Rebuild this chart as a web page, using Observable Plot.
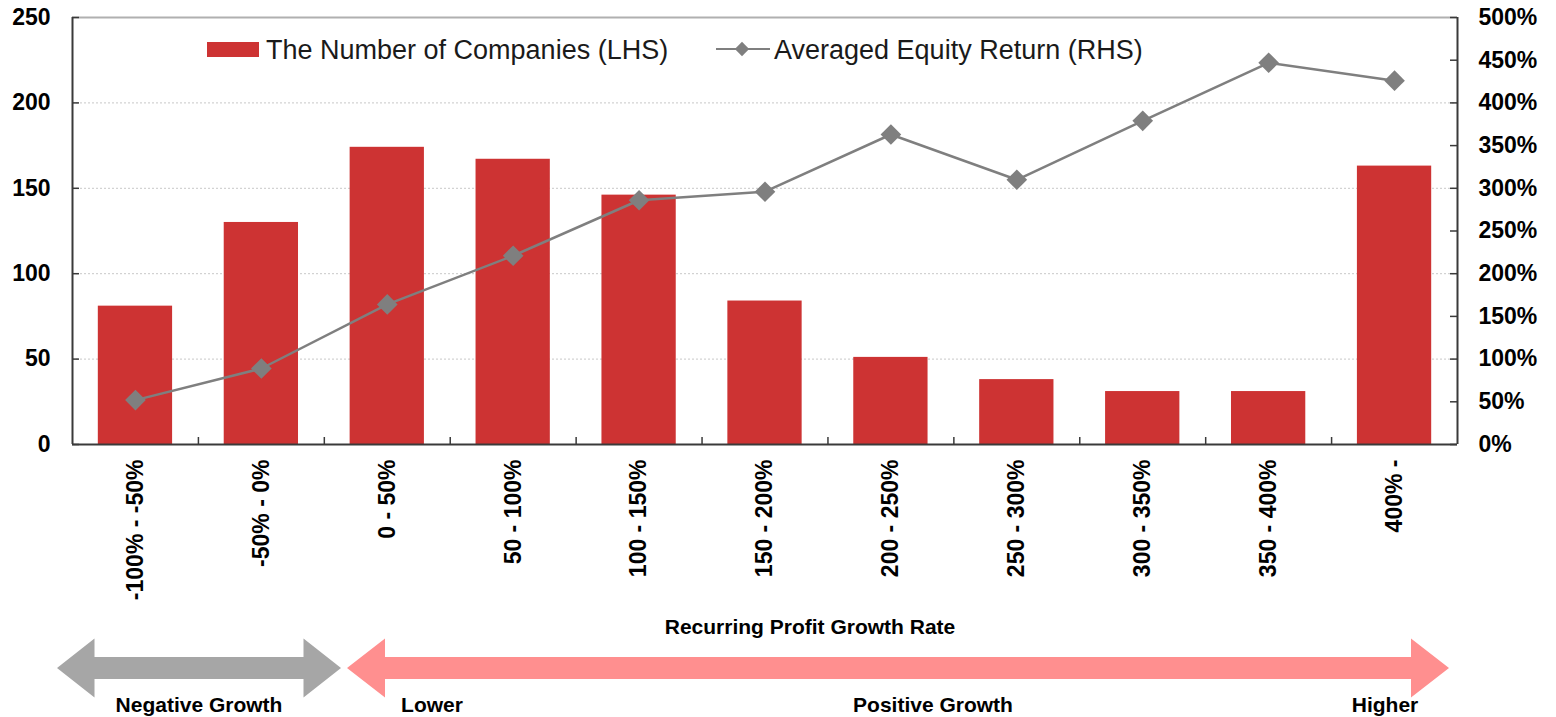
<!DOCTYPE html>
<html>
<head>
<meta charset="utf-8">
<script src="https://cdn.jsdelivr.net/npm/d3@7"></script>
<script src="https://cdn.jsdelivr.net/npm/@observablehq/plot@0.6"></script>
<style>
  html, body { margin: 0; padding: 0; background: #fff; }
  #chart svg { font-family: "Liberation Sans", Arial, sans-serif; }
</style>
</head>
<body>
<div id="chart"></div>
<script>
// ---- data ----
const categories = ["-100% - -50%", "-50% - 0%", "0 - 50%", "50 - 100%", "100 - 150%", "150 - 200%", "200 - 250%", "250 - 300%", "300 - 350%", "350 - 400%", "400% -"];
const companies = [81, 130, 174, 167, 146, 84, 51, 38, 31, 31, 163];
const equityReturn = [52, 89, 164, 221, 286, 296, 363, 310, 379, 447, 426]; // percent
const leftTicks = [0, 50, 100, 150, 200, 250];
const rightTicks = [0, 50, 100, 150, 200, 250, 300, 350, 400, 450, 500]; // percent
const gridTicks = [50, 100, 150, 200];
const legendLabels = ["The Number of Companies (LHS)", "Averaged Equity Return (RHS)"];
const xTitle = "Recurring Profit Growth Rate";
const arrowLabels = {neg: "Negative Growth", lower: "Lower", pos: "Positive Growth", higher: "Higher"};

const data = categories.map((c, i) => ({cat: c, count: companies[i], ret: equityReturn[i]}));

// ---- layout ----
const W = 1556, H = 717;
const mL = 72, mR = 99, mT = 17, mB = 273;
const frameW = W - mL - mR, frameH = H - mT - mB;
const padInner = 0.41, padOuter = 0.205;
const step = frameW / (categories.length - padInner + 2 * padOuter);
const leftMax = 250, rightMax = 500;
const toLeft = v => v * leftMax / rightMax;

const barColor = "#cd3333";
const lineColor = "#7f7f7f";
const axisColor = "#3a3a3a";
const fontBold = {fontSize: 23, fontWeight: "bold", fill: "#000"};

const chart = Plot.plot({
  width: W, height: H,
  marginLeft: mL, marginRight: mR, marginTop: mT, marginBottom: mB,
  style: {fontFamily: '"Liberation Sans", Arial, sans-serif', background: "#fff", overflow: "visible"},
  x: {type: "band", domain: categories, paddingInner: padInner, paddingOuter: padOuter, round: false},
  y: {domain: [0, leftMax]},
  marks: [
    Plot.ruleY(gridTicks, {stroke: "#c8c8c8", strokeWidth: 1, strokeDasharray: "2,2"}),
    Plot.barY(data, {x: "cat", y: "count", fill: barColor}),
    Plot.ruleY([leftMax], {stroke: "#b0b0b0", strokeWidth: 2}),
    Plot.ruleY([0], {stroke: axisColor, strokeWidth: 2}),
    Plot.ruleX([categories[0]], {dx: -step / 2, stroke: axisColor, strokeWidth: 2}),
    Plot.ruleX([categories[categories.length - 1]], {dx: step / 2, stroke: axisColor, strokeWidth: 2}),
    Plot.ruleX(categories.slice(0, -1), {dx: step / 2, insetTop: frameH - 7, stroke: axisColor, strokeWidth: 1.5}),
    Plot.ruleY(leftTicks, {insetRight: frameW - 7, stroke: axisColor, strokeWidth: 1.5}),
    Plot.ruleY(rightTicks.map(toLeft), {insetLeft: frameW - 7, stroke: axisColor, strokeWidth: 1.5}),
    Plot.lineY(data, {x: "cat", y: d => toLeft(d.ret), stroke: lineColor, strokeWidth: 2.5}),
    Plot.dot(data, {x: "cat", y: d => toLeft(d.ret), symbol: "diamond2", r: 9.3, fill: lineColor, stroke: null}),
    Plot.axisY({anchor: "left", ticks: leftTicks, tickSize: 0, tickPadding: 22, label: null, ...fontBold}),
    Plot.axisY({anchor: "right", ticks: rightTicks.map(toLeft), tickFormat: d => Math.round(d * rightMax / leftMax) + "%", tickSize: 0, tickPadding: 21, label: null, ...fontBold}),
    Plot.axisX({anchor: "bottom", tickRotate: -90, tickSize: 0, tickPadding: 15, label: null, ...fontBold})
  ]
});

document.getElementById("chart").appendChild(chart);

// ---- legend & annotations ----
const svg = d3.select(chart);
const g = svg.append("g").attr("font-family", '"Liberation Sans", Arial, sans-serif').attr("text-anchor", "start");

// legend
g.append("rect").attr("x", 207).attr("y", 42).attr("width", 52).attr("height", 15).attr("fill", barColor);
g.append("text").attr("x", 266).attr("y", 59).attr("text-anchor", "start").attr("font-size", 27).attr("fill", "#1a1a1a").text(legendLabels[0]);
g.append("line").attr("x1", 716).attr("x2", 770).attr("y1", 49).attr("y2", 49).attr("stroke", lineColor).attr("stroke-width", 2);
g.append("path").attr("d", d3.symbol(d3.symbolDiamond2, 130)()).attr("transform", "translate(742,49)").attr("fill", lineColor);
g.append("text").attr("x", 774).attr("y", 59).attr("text-anchor", "start").attr("font-size", 27).attr("fill", "#1a1a1a").text(legendLabels[1]);

// x title
g.append("text").attr("x", 810).attr("y", 634).attr("text-anchor", "middle").attr("font-size", 21).attr("font-weight", "bold").attr("fill", "#000").text(xTitle);

// arrows
const cy = 668, headH = 29.5, shaftH = 11;
function arrowPath(x0, x1, headW, leftHead, rightHead) {
  const pts = [];
  if (leftHead) {
    pts.push([x0, cy], [x0 + headW, cy - headH], [x0 + headW, cy - shaftH]);
  } else {
    pts.push([x0, cy - shaftH]);
  }
  if (rightHead) {
    pts.push([x1 - headW, cy - shaftH], [x1 - headW, cy - headH], [x1, cy], [x1 - headW, cy + headH], [x1 - headW, cy + shaftH]);
  } else {
    pts.push([x1, cy - shaftH], [x1, cy + shaftH]);
  }
  if (leftHead) {
    pts.push([x0 + headW, cy + shaftH], [x0 + headW, cy + headH]);
  } else {
    pts.push([x0, cy + shaftH]);
  }
  return "M" + pts.map(p => p.join(",")).join("L") + "Z";
}
g.append("path").attr("d", arrowPath(57, 341, 37.5, true, true)).attr("fill", "#a6a6a6");
g.append("path").attr("d", arrowPath(347, 1449, 38, true, true)).attr("fill", "#ff8f8f");

const labelStyle = sel => sel.attr("font-size", 21).attr("font-weight", "bold").attr("fill", "#000").attr("text-anchor", "middle");
g.append("text").attr("x", 199).attr("y", 712).call(labelStyle).text(arrowLabels.neg);
g.append("text").attr("x", 432).attr("y", 712).call(labelStyle).text(arrowLabels.lower);
g.append("text").attr("x", 933).attr("y", 712).call(labelStyle).text(arrowLabels.pos);
g.append("text").attr("x", 1385).attr("y", 712).call(labelStyle).text(arrowLabels.higher);
</script>
</body>
</html>
